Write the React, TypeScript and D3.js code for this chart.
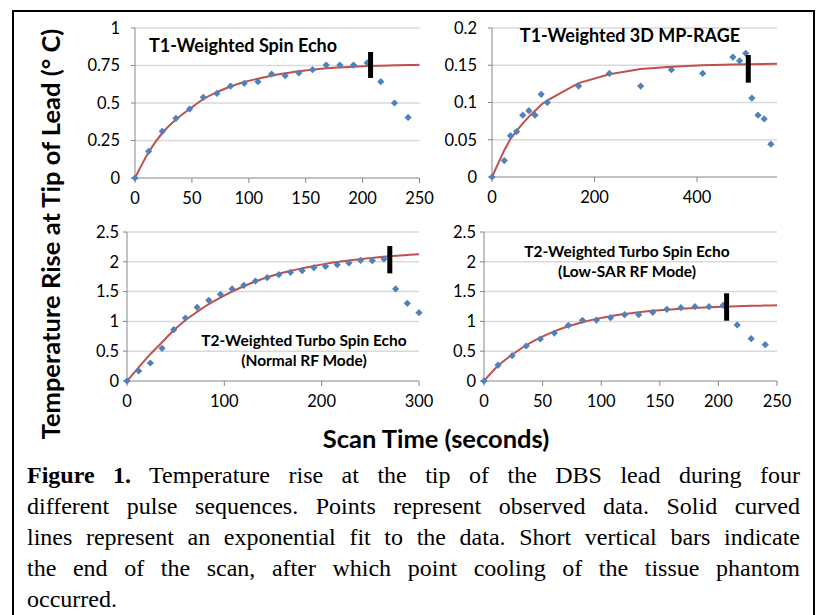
import React, { useEffect, useRef } from "react";
import * as d3 from "d3";

// ---- values ----
// T1-weighted spin echo
const seTimes = [0, 12, 24, 36, 48, 60, 72, 84, 96, 108, 120, 132, 144, 156, 168, 180, 192, 204, 216, 228, 240];
const seTemps = [0, 0.178, 0.311, 0.398, 0.46, 0.538, 0.564, 0.613, 0.631, 0.642, 0.693, 0.682, 0.7, 0.722, 0.753, 0.753, 0.753, 0.767, 0.642, 0.5, 0.404];
const seFitTimes = [0, 12, 24, 36, 48, 60, 72, 84, 96, 108, 120, 132, 144, 156, 168, 180, 192, 204, 216, 228, 240, 250];
const seFitTemps = [0, 0.172, 0.3, 0.39, 0.46, 0.525, 0.572, 0.61, 0.64, 0.662, 0.682, 0.698, 0.712, 0.722, 0.731, 0.737, 0.742, 0.746, 0.749, 0.751, 0.753, 0.755];

// T1-weighted 3D MP-RAGE
const mpTimes = [0, 24, 36, 48, 60, 72, 84, 96, 108, 169, 229, 290, 350, 411, 470, 483, 495, 507, 519, 531, 544];
const mpTemps = [0, 0.022, 0.0555, 0.061, 0.083, 0.089, 0.083, 0.111, 0.1, 0.122, 0.139, 0.122, 0.144, 0.139, 0.161, 0.156, 0.166, 0.106, 0.083, 0.078, 0.044];
const mpFitTimes = [0, 24, 36, 48, 60, 72, 84, 96, 108, 169, 229, 290, 350, 411, 470, 556];
const mpFitTemps = [0, 0.036, 0.051, 0.062, 0.072, 0.081, 0.089, 0.097, 0.103, 0.126, 0.138, 0.145, 0.148, 0.15, 0.151, 0.152];

// T2-weighted TSE, normal RF mode
const tseTimes = [0, 12, 24, 36, 48, 60, 72, 84, 96, 108, 120, 132, 144, 156, 168, 180, 192, 204, 216, 228, 240, 252, 264, 276, 288, 300];
const tseTemps = [0, 0.168, 0.302, 0.548, 0.861, 1.057, 1.236, 1.353, 1.454, 1.544, 1.605, 1.678, 1.734, 1.784, 1.823, 1.851, 1.902, 1.924, 1.952, 1.98, 2.025, 2.019, 2.047, 1.544, 1.303, 1.147];
const tseFitTimes = [0, 12, 24, 36, 48, 60, 72, 84, 96, 108, 120, 132, 144, 156, 168, 180, 192, 204, 216, 228, 240, 252, 264, 276, 288, 300];
const tseFitTemps = [0, 0.23, 0.45, 0.65, 0.85, 1.02, 1.16, 1.29, 1.4, 1.5, 1.59, 1.67, 1.74, 1.8, 1.85, 1.89, 1.93, 1.965, 1.995, 2.02, 2.045, 2.065, 2.085, 2.1, 2.115, 2.125];

// T2-weighted TSE, low-SAR RF mode
const lowTimes = [0, 12, 24, 36, 48, 60, 72, 84, 96, 108, 120, 132, 144, 156, 168, 180, 192, 204, 216, 228, 240];
const lowTemps = [0, 0.268, 0.425, 0.587, 0.705, 0.805, 0.934, 1.018, 1.023, 1.063, 1.113, 1.113, 1.152, 1.202, 1.23, 1.247, 1.247, 1.27, 0.94, 0.71, 0.61];
const lowFitTimes = [0, 12, 24, 36, 48, 60, 72, 84, 96, 108, 120, 132, 144, 156, 168, 180, 192, 204, 216, 228, 240, 250];
const lowFitTemps = [0, 0.255, 0.44, 0.6, 0.727, 0.833, 0.918, 0.987, 1.042, 1.088, 1.124, 1.153, 1.177, 1.197, 1.213, 1.226, 1.237, 1.246, 1.254, 1.261, 1.266, 1.27];

// end-of-scan bars: time, low, high
const scanEnd = [207, 500, 270, 207];
const barLow = [0.667, 0.1266, 1.806, 1.012];
const barHigh = [0.84, 0.1638, 2.265, 1.471];

const xMaxes = [250, 556, 300, 250];
const xSteps = [50, 200, 100, 50];
const yMaxes = [1, 0.2, 2.5, 2.5];
const ySteps = [0.25, 0.05, 0.5, 0.5];

const titles = [
  ["T1-Weighted Spin Echo"],
  ["T1-Weighted 3D MP-RAGE"],
  ["T2-Weighted Turbo Spin Echo", "(Normal RF Mode)"],
  ["T2-Weighted Turbo Spin Echo", "(Low-SAR RF Mode)"],
];

const yTitle = "Temperature Rise at Tip of Lead (\u00B0 C)";
const xTitle = "Scan Time (seconds)";

const captionLines = [
  "Temperature rise at the tip of the DBS lead during four",
  "different pulse sequences. Points represent observed data. Solid curved",
  "lines represent an exponential fit to the data. Short vertical bars indicate",
  "the end of the scan, after which point cooling of the tissue phantom",
  "occurred.",
];

const series = [
  { times: seTimes, temps: seTemps, fitT: seFitTimes, fitV: seFitTemps },
  { times: mpTimes, temps: mpTemps, fitT: mpFitTimes, fitV: mpFitTemps },
  { times: tseTimes, temps: tseTemps, fitT: tseFitTimes, fitV: tseFitTemps },
  { times: lowTimes, temps: lowTemps, fitT: lowFitTimes, fitV: lowFitTemps },
];

// layout of each panel (pixels)
const boxes = [
  { l: 135, r: 419.5, t: 28, b: 178, titleX: 243, titleY: 52, titleSize: 18, title2Y: 0 },
  { l: 492, r: 777, t: 28, b: 177, titleX: 630, titleY: 42, titleSize: 18, title2Y: 0 },
  { l: 127, r: 419, t: 232, b: 381, titleX: 304, titleY: 346, titleSize: 15.5, title2Y: 366 },
  { l: 484, r: 777, t: 232, b: 381, titleX: 627, titleY: 257, titleSize: 15.5, title2Y: 277 },
];

const BLUE = "#4F81BD";
const RED = "#C0504D";
const GRID = "#D9D9D9";
const AXIS = "#868686";
const SANS = "Lato, 'Open Sans', sans-serif";
const SERIF = "'Liberation Serif', 'Times New Roman', serif";

const CAP_X = 27;
const CAP_W = 773;

const fmt = (v: number) => String(+v.toFixed(3));

function Panel({ i }: { i: number }) {
  const box = boxes[i];
  const s = series[i];
  const x = d3.scaleLinear().domain([0, xMaxes[i]]).range([box.l, box.r]);
  const y = d3.scaleLinear().domain([0, yMaxes[i]]).range([box.b, box.t]);
  const yTicks = d3.range(0, yMaxes[i] + 1e-9, ySteps[i]);
  const xTicks = d3.range(0, xMaxes[i] + 1e-9, xSteps[i]);
  const line = d3
    .line<number>()
    .x((_, k) => x(s.fitT[k]))
    .y((d) => y(d))
    .curve(i === 1 ? d3.curveLinear : d3.curveMonotoneX);
  const diamond = d3.symbol(d3.symbolSquare, 26)() as string;

  return (
    <g>
      {yTicks.map((v) => (
        <g key={"g" + v}>
          {v > 0 && (
            <line x1={box.l} x2={box.r} y1={y(v)} y2={y(v)} stroke={GRID} strokeWidth={1.5} />
          )}
          <line x1={box.l - 4} x2={box.l} y1={y(v)} y2={y(v)} stroke={AXIS} strokeWidth={1} />
          <text
            x={box.l - (i < 2 ? 15 : 8)}
            y={y(v)}
            dy="0.35em"
            textAnchor="end"
            fontFamily={SANS}
            fontSize={16.5}
            fill="#000"
          >
            {fmt(v)}
          </text>
        </g>
      ))}
      <line x1={box.l} x2={box.l} y1={box.t} y2={box.b} stroke={AXIS} strokeWidth={1} />
      <line x1={box.l} x2={box.r} y1={box.b} y2={box.b} stroke={AXIS} strokeWidth={1} />
      {xTicks.map((v) => (
        <g key={"x" + v}>
          <line x1={x(v)} x2={x(v)} y1={box.b} y2={box.b + 5} stroke={AXIS} strokeWidth={1} />
          <text
            x={x(v)}
            y={box.b + 26}
            textAnchor="middle"
            fontFamily={SANS}
            fontSize={16.5}
            fill="#000"
          >
            {fmt(v)}
          </text>
        </g>
      ))}
      <path d={line(s.fitV) || ""} fill="none" stroke={RED} strokeWidth={2} />
      {s.temps.map((v, k) => (
        <path
          key={"p" + k}
          d={diamond}
          transform={`translate(${x(s.times[k])},${y(v)}) rotate(45)`}
          fill={BLUE}
        />
      ))}
      <line
        x1={x(scanEnd[i])}
        x2={x(scanEnd[i])}
        y1={y(barLow[i])}
        y2={y(barHigh[i])}
        stroke="#000"
        strokeWidth={5}
      />
      <text
        x={box.titleX}
        y={box.titleY}
        textAnchor="middle"
        fontFamily={SANS}
        fontWeight="bold"
        fontSize={box.titleSize}
        fill="#000"
      >
        {titles[i][0]}
      </text>
      {titles[i][1] && (
        <text
          x={box.titleX}
          y={box.title2Y}
          textAnchor="middle"
          fontFamily={SANS}
          fontWeight="bold"
          fontSize={box.titleSize}
          fill="#000"
        >
          {titles[i][1]}
        </text>
      )}
    </g>
  );
}

export default function App() {
  const ref = useRef<SVGSVGElement>(null);

  // justify the caption lines by spreading the word gaps
  useEffect(() => {
    const run = () => {
      d3.select(ref.current)
        .selectAll<SVGTextElement, unknown>("text.cap")
        .each(function () {
          if (this.getAttribute("data-last") === "1") return;
          this.setAttribute("word-spacing", "0");
          const w = this.getComputedTextLength();
          const gaps = ((this.textContent || "").match(/ /g) || []).length;
          if (gaps > 0) this.setAttribute("word-spacing", String((CAP_W - w) / gaps));
        });
    };
    run();
    if ((document as any).fonts) (document as any).fonts.ready.then(run);
  }, []);

  return (
    <svg
      ref={ref}
      width={817}
      height={615}
      style={{ position: "absolute", left: 0, top: 0, background: "#fff" }}
    >
      <rect x={0} y={0} width={817} height={615} fill="#fff" />
      <rect x={13} y={11} width={801} height={640} fill="none" stroke="#000" strokeWidth={2} />
      {boxes.map((_, i) => (
        <Panel key={i} i={i} />
      ))}
      <text
        transform="translate(60,234) rotate(-90)"
        textAnchor="middle"
        fontFamily={SANS}
        fontWeight="bold"
        fontSize={25.5}
        fill="#000"
      >
        {yTitle}
      </text>
      <text x={436} y={448} textAnchor="middle" fontFamily={SANS} fontWeight="bold" fontSize={25.5} fill="#000">
        {xTitle}
      </text>
      {captionLines.map((ln, k) => (
        <text
          key={k}
          className="cap"
          data-last={k === captionLines.length - 1 ? "1" : "0"}
          x={CAP_X}
          y={483 + k * 31}
          fontFamily={SERIF}
          fontSize={24}
          fill="#000"
        >
          {k === 0 && <tspan fontWeight="bold">Figure 1.</tspan>}
          {k === 0 ? " " + ln : ln}
        </text>
      ))}
    </svg>
  );
}
